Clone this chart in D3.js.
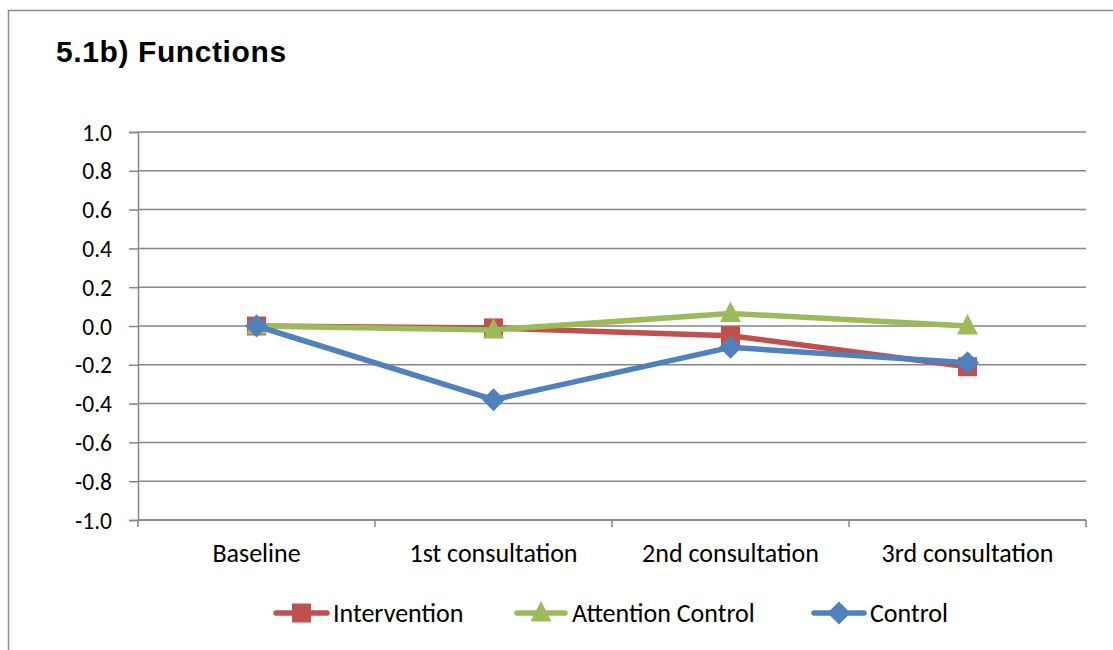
<!DOCTYPE html>
<html>
<head>
<meta charset="utf-8">
<script src="https://cdn.jsdelivr.net/npm/d3@7"></script>
<style>
  html, body { margin: 0; padding: 0; background: #fff; }
  svg { display: block; }
</style>
</head>
<body>
<svg id="chart" width="1113" height="650"></svg>
<script>
// Mean change in "Functions" score by consultation
const categories = ["Baseline", "1st consultation", "2nd consultation", "3rd consultation"];
const intervention = [0.0, -0.01, -0.05, -0.21];
const attentionControl = [0.0, -0.02, 0.065, 0.0];
const control = [0.0, -0.38, -0.11, -0.19];
const yTicks = [-1.0, -0.8, -0.6, -0.4, -0.2, 0.0, 0.2, 0.4, 0.6, 0.8, 1.0];
const seriesNames = ["Intervention", "Attention Control", "Control"];
const seriesColors = ["#c0504d", "#9bbb59", "#4f81bd"];
const seriesShapes = ["square", "triangle", "diamond"];

(function () {
  const series = seriesNames.map((name, i) => ({
    name,
    color: seriesColors[i],
    shape: seriesShapes[i],
    values: [intervention, attentionControl, control][i]
  }));

  const svg = d3.select("#chart");
  const labelFont = "Carlito, Lato, 'Open Sans', sans-serif";
  const gridColor = "#868686";

  // Outer frame (left and top edges)
  svg.append("path")
    .attr("d", "M8.5,650 L8.5,10.5 L1113,10.5")
    .attr("fill", "none")
    .attr("stroke", "#8c8c8c")
    .attr("stroke-width", 1.5);

  // Title
  svg.append("text")
    .attr("x", 56).attr("y", 62)
    .attr("font-family", "'Liberation Sans', Arial, sans-serif")
    .attr("font-weight", "bold")
    .attr("font-size", 30)
    .attr("letter-spacing", 0.6)
    .attr("fill", "#000")
    .text("5.1b) Functions");

  const plotLeft = 138, plotRight = 1086, plotTop = 132, plotBottom = 520;

  const x = d3.scaleBand().domain(categories).range([plotLeft, plotRight]);
  const y = d3.scaleLinear().domain([-1, 1]).range([plotBottom, plotTop]);

  // Horizontal gridlines
  svg.append("g")
    .selectAll("line")
    .data(yTicks)
    .join("line")
    .attr("x1", plotLeft).attr("x2", plotRight)
    .attr("y1", d => y(d)).attr("y2", d => y(d))
    .attr("stroke", gridColor)
    .attr("stroke-width", 1.5);

  // Y axis
  const yAxis = svg.append("g")
    .attr("transform", `translate(${plotLeft},0)`)
    .call(d3.axisLeft(y).tickValues(yTicks).tickSize(9).tickPadding(17));
  yAxis.select(".domain").attr("stroke", gridColor).attr("stroke-width", 1.5);
  yAxis.selectAll(".tick line").attr("stroke", gridColor).attr("stroke-width", 1.5);
  yAxis.selectAll(".tick text")
    .attr("font-family", labelFont).attr("font-size", 23.5).attr("fill", "#000")
    .attr("dy", "0.34em")
    .text(d => d3.format(".1f")(d).replace("\u2212", "-"));

  // X axis
  const xAxis = svg.append("g")
    .attr("transform", `translate(0,${plotBottom})`)
    .call(d3.axisBottom(x).tickSize(0).tickPadding(24));
  xAxis.select(".domain").remove();
  xAxis.selectAll(".tick text")
    .attr("font-family", labelFont).attr("font-size", 26).attr("fill", "#000");
  svg.append("line")
    .attr("x1", plotLeft).attr("x2", plotRight).attr("y1", plotBottom).attr("y2", plotBottom)
    .attr("stroke", gridColor).attr("stroke-width", 1.5);
  // Category boundary ticks
  const boundaries = [plotLeft].concat(categories.map(c => x(c) + x.bandwidth()));
  svg.append("g").selectAll("line")
    .data(boundaries)
    .join("line")
    .attr("x1", d => d).attr("x2", d => d)
    .attr("y1", plotBottom).attr("y2", plotBottom + 7)
    .attr("stroke", gridColor).attr("stroke-width", 1.5);

  function markerPath(shape) {
    if (shape === "square") return "M-9.5,-9.5 L9.5,-9.5 L9.5,9.5 L-9.5,9.5 Z";
    if (shape === "triangle") return "M0,-12 L10.5,8.5 L-10.5,8.5 Z";
    return "M0,-11.5 L11.5,0 L0,11.5 L-11.5,0 Z";
  }

  const cx = c => x(c) + x.bandwidth() / 2;
  const line = d3.line().x((d, i) => cx(categories[i])).y(d => y(d));

  // Draw series in order so Control sits on top
  series.forEach(s => {
    const g = svg.append("g");
    g.append("path")
      .attr("d", line(s.values))
      .attr("fill", "none")
      .attr("stroke", s.color)
      .attr("stroke-width", 5.5)
      .attr("stroke-linejoin", "round")
      .attr("stroke-linecap", "round");
    g.selectAll("path.m")
      .data(s.values)
      .join("path")
      .attr("class", "m")
      .attr("transform", (d, i) => `translate(${cx(categories[i])},${y(d)})`)
      .attr("d", markerPath(s.shape))
      .attr("fill", s.color);
  });

  // Legend
  const legendItems = [
    { x0: 273, x1: 330, textX: 333 },
    { x0: 514, x1: 568, textX: 572 },
    { x0: 811, x1: 867, textX: 870 }
  ];
  series.forEach((s, i) => {
    const li = legendItems[i];
    const ly = 613;
    const lg = svg.append("g");
    lg.append("line")
      .attr("x1", li.x0 + 3).attr("x2", li.x1 - 3)
      .attr("y1", ly).attr("y2", ly)
      .attr("stroke", s.color).attr("stroke-width", 5.5).attr("stroke-linecap", "round");
    lg.append("path")
      .attr("transform", `translate(${(li.x0 + li.x1) / 2},${ly})`)
      .attr("d", markerPath(s.shape))
      .attr("fill", s.color);
    lg.append("text")
      .attr("x", li.textX).attr("y", ly + 9)
      .attr("font-family", labelFont).attr("font-size", 26).attr("fill", "#000")
      .text(s.name);
  });
})();
</script>
</body>
</html>
